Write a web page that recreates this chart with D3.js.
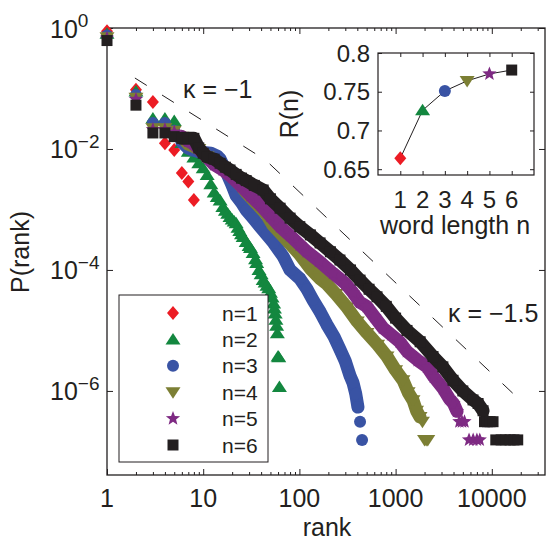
<!DOCTYPE html>
<html><head><meta charset="utf-8">
<script src="https://cdn.jsdelivr.net/npm/d3@7"></script>
<style>
body{margin:0;background:#fff}
text{font-family:"Liberation Sans",Arial,Helvetica,sans-serif;fill:#231f20}
</style>
</head><body>
<svg id="c" width="546" height="541"></svg>
<script>
// ---------- data ----------
const seriesNames = ["n=1","n=2","n=3","n=4","n=5","n=6"];
const seriesColors = ["#ec1c24","#13873f","#3953a4","#7c7f34","#7e2a83","#231f20"];
const seriesMarkers = ["diamond","up","circle","down","star","square"];

// [rank, P(rank)]
const n1 = [[1,0.88],[2,0.095],[3,0.06],[4,0.0124],[5,0.0096],[6,0.004],[7,0.0029],[8,0.00144]];
const n2 = [[1,0.8],[2,0.089],[3,0.032],[4,0.032],[5,0.029],[6,0.0125],[7,0.009],[8,0.0072],[9,0.0058],[10,0.0048],
  [11,0.0037],[12,0.0026],[13,0.0019],[14,0.0016],[15,0.0014],[16,0.0011],[17,0.00095],[18,0.00085],[19,0.00075],[20,0.00068],
  [21,0.00063],[22,0.00059],[23,0.0005],[24,0.00044],[25,0.00039],[26,0.00035],[28,0.00029],[30,0.00025],[31,0.00023],[33,0.00019],
  [35,0.00015],[36,0.00013],[38,0.0001],[40,0.000085],[42,0.000068],[44,0.000062],[46,0.000055],[48,0.00005],[50,0.000042],[52,0.000035],
  [54,0.000028],[55,0.000023],[56,0.000019],[57,0.000015],[58,0.000012],[59,0.000009],[60,0.0000037],[61,0.0000036],[62,0.00000116]];
const n3 = [[1,0.75],[2,0.078],[3,0.027],[4,0.027],[5,0.02],[6,0.013],[7,0.0103],[8,0.0095],[9,0.009],[10,0.0088],
  [12,0.0085],[14,0.0076],[15,0.0068],[17,0.0045],[20,0.0025],[22,0.0017],[25,0.0013],[28,0.00098],[33,0.00072],[39,0.00052],
  [46,0.00038],[54,0.00028],[68,0.000166],[80,0.0001],[101,0.000072],[120,0.000048],[138,0.000032],[165,0.00002],[193,0.0000125],[230,0.0000078],
  [265,0.0000048],[300,0.0000031],[335,0.0000018],[361,0.00000136],[385,0.0000009],[406,0.00000054],[427,0.00000031],[448,0.000000155]];
const n4 = [[1,0.7],[2,0.07],[3,0.022],[4,0.022],[5,0.02],[6,0.016],[7,0.012],[8,0.011],[9,0.01],[11,0.0075],
  [14,0.0058],[17,0.0045],[20,0.0036],[24,0.0026],[28,0.0019],[35,0.0013],[45,0.00085],[53,0.00055],[68,0.00036],[80,0.00027],
  [101,0.00018],[130,0.000105],[164,0.000072],[194,0.000058],[240,0.00004],[313,0.000024],[400,0.000014],[504,0.0000091],[650,0.0000058],[814,0.0000037],
  [1000,0.0000022],[1194,0.0000015],[1350,0.00000095],[1517,0.0000007],[1650,0.00000047],[1794,0.00000037],[1900,0.00000031],[2000,0.000000155],[2080,0.000000155],[2160,0.000000155]];
const n5 = [[1,0.68],[2,0.066],[3,0.021],[4,0.021],[5,0.019],[6,0.016],[7,0.0135],[8,0.012],[10,0.0085],[13,0.0055],
  [16,0.0045],[20,0.0034],[25,0.0024],[31,0.0017],[39,0.0012],[50,0.00078],[63,0.00052],[80,0.00037],[101,0.00026],[120,0.0002],
  [160,0.00014],[224,0.000088],[300,0.00006],[361,0.000042],[427,0.000029],[500,0.000025],[600,0.000017],[740,0.000011],[900,0.0000085],[1100,0.0000065],
  [1314,0.0000045],[1700,0.0000032],[2120,0.0000025],[2500,0.0000017],[3112,0.0000011],[3600,0.00000075],[4000,0.00000062],[4350,0.00000046],[4600,0.00000031],[4900,0.00000031],
  [5200,0.00000031],[5800,0.000000155],[6400,0.000000155],[7000,0.000000155],[7500,0.000000155]];
const n6 = [[1,0.62],[2,0.053],[3,0.0184],[4,0.0184],[5,0.016],[6,0.015],[7,0.015],[8,0.015],[9,0.0104],[10,0.0085],
  [11,0.0074],[13,0.0068],[15,0.0058],[17,0.005],[19,0.0045],[22,0.0038],[25,0.0033],[28,0.003],[34,0.0025],[42,0.0021],
  [50,0.0015],[63,0.00105],[80,0.00072],[101,0.00052],[130,0.00038],[164,0.00028],[210,0.0002],[264,0.000146],[340,0.0001],[427,0.000068],
  [530,0.000048],[641,0.000036],[800,0.000025],[1000,0.000016],[1314,0.00001],[1800,0.0000065],[2449,0.0000037],[3100,0.0000025],[3954,0.0000015],[5000,0.000001],
  [6380,0.00000071],[7200,0.00000062],[8110,0.00000047],[8400,0.00000031],[9000,0.00000031],[9600,0.00000031],[10300,0.00000031],
  [11000,0.000000155],[12500,0.000000155],[14000,0.000000155],[15500,0.000000155],[17000,0.000000155],[18600,0.000000155]];
const seriesData = [n1,n2,n3,n4,n5,n6];

// reference power-law guide (kappa = -1, then kappa = -1.5)
const guideRanks = [1.95, 44.5, 18600];
const guideP = [0.149, 0.00656, 7.66e-7];
const guideLabels = ["\u03BA = \u22121", "\u03BA = \u22121.5"];

const xTickValues = [1,10,100,1000,10000];
const xTickLabels = ["1","10","100","1000","10000"];
const yTickExps = [0,-2,-4,-6];
const yTickExpLabels = ["0","\u22122","\u22124","\u22126"];

// inset
const insetN = [1,2,3,4,5,6];
const insetR = [0.664,0.726,0.751,0.764,0.773,0.778];
const insetYTicks = [0.65,0.7,0.75,0.8];
const insetYLabels = ["0.65","0.7","0.75","0.8"];

// ---------- drawing ----------
const svg = d3.select("#c");
const L=107, R=545, T=28, B=475;
const x = d3.scaleLog().domain([1, Math.pow(10,4.553)]).range([L,R]);
const y = d3.scaleLog().domain([Math.pow(10,-7.39),1]).range([B,T]);

function starPath(ro, ri){
  let p="";
  for(let i=0;i<10;i++){
    const r = i%2===0?ro:ri;
    const a = -Math.PI/2 + i*Math.PI/5;
    p += (i===0?"M":"L") + (r*Math.cos(a)).toFixed(2) + "," + (r*Math.sin(a)).toFixed(2);
  }
  return p+"Z";
}
function markerPath(t){
  switch(t){
    case "diamond": return "M0,-7L6,0L0,7L-6,0Z";
    case "up": return "M0,-6.5L7.5,5L-7.5,5Z";
    case "down": return "M0,6.5L7.5,-5L-7.5,-5Z";
    case "circle": return d3.symbol(d3.symbolCircle, Math.PI*36)();
    case "star": return starPath(7.5,3.2);
    case "square": return "M-5.5,-5.5H5.5V5.5H-5.5Z";
  }
}

// axes box
const axisG = svg.append("g");
const minorX = [];
for(let d=0; d<5; d++) for(let m=2;m<=9;m++){ const v=m*Math.pow(10,d); if(v<x.domain()[1]) minorX.push(v); }

axisG.append("g").attr("transform",`translate(0,${B})`)
  .call(d3.axisBottom(x).tickValues(xTickValues).tickSizeInner(-6).tickSizeOuter(0).tickFormat(""));
axisG.append("g").attr("transform",`translate(0,${B})`)
  .call(d3.axisBottom(x).tickValues(minorX).tickSizeInner(-3).tickSizeOuter(0).tickFormat(""));
axisG.append("g").attr("transform",`translate(0,${T})`)
  .call(d3.axisTop(x).tickValues(xTickValues).tickSizeInner(-6).tickSizeOuter(0).tickFormat(""));
axisG.append("g").attr("transform",`translate(0,${T})`)
  .call(d3.axisTop(x).tickValues(minorX).tickSizeInner(-3).tickSizeOuter(0).tickFormat(""));
const yTickVals = yTickExps.map(e=>Math.pow(10,e));
axisG.append("g").attr("transform",`translate(${L},0)`)
  .call(d3.axisLeft(y).tickValues(yTickVals).tickSizeInner(-6).tickSizeOuter(0).tickFormat(""));
axisG.append("g").attr("transform",`translate(${R},0)`)
  .call(d3.axisRight(y).tickValues(yTickVals).tickSizeInner(-6).tickSizeOuter(0).tickFormat(""));
axisG.selectAll(".domain").remove();
axisG.selectAll("line").attr("stroke","#231f20").attr("stroke-width",1);
svg.append("rect").attr("x",L).attr("y",T).attr("width",R-L).attr("height",B-T)
  .attr("fill","none").attr("stroke","#231f20").attr("stroke-width",1.3);

// tick labels
svg.selectAll(".xl").data(xTickValues).enter().append("text")
  .attr("x",d=>x(d)).attr("y",507).attr("text-anchor","middle").attr("font-size",25)
  .text((d,i)=>xTickLabels[i]);
yTickExps.forEach((e,i)=>{
  const ty = y(Math.pow(10,e));
  const t = svg.append("text").attr("x",50).attr("y",ty+9.5).attr("font-size",25);
  t.append("tspan").text("10");
  t.append("tspan").attr("font-size",19).attr("dy",-10.5).text(yTickExpLabels[i]);
});
svg.append("text").attr("x",327).attr("y",536).attr("text-anchor","middle").attr("font-size",25).text("rank");
svg.append("text").attr("transform",`translate(29,252) rotate(-90)`).attr("text-anchor","middle")
  .attr("font-size",25).text("P(rank)");

// guide line
const gline = d3.line().x(d=>x(d[0])).y(d=>y(d[1]));
svg.append("path").datum(guideRanks.map((r,i)=>[r,guideP[i]]))
  .attr("d",gline).attr("fill","none").attr("stroke","#231f20").attr("stroke-width",1)
  .attr("stroke-dasharray","14,18");
svg.append("text").attr("x",183).attr("y",98).attr("font-size",25).text(guideLabels[0]);
svg.append("text").attr("x",448).attr("y",322).attr("font-size",25).text(guideLabels[1]);

// series: dense part drawn as a band of overlapping markers, plus the markers themselves
const band = d3.line().x(d=>x(d[0])).y(d=>y(d[1])).curve(d3.curveLinear);
seriesData.forEach((data,si)=>{
  const g = svg.append("g");
  if(si>=2){
    g.append("path").datum(data.filter(d=>d[0]>=6 && d[1]>3.5e-7)).attr("d",band)
      .attr("fill","none").attr("stroke",seriesColors[si]).attr("stroke-width",13)
      .attr("stroke-linejoin","round").attr("stroke-linecap","round");
  }
  g.selectAll("path.m").data(data).enter().append("path").attr("class","m")
    .attr("transform",d=>`translate(${x(d[0])},${y(d[1])})`)
    .attr("d",markerPath(seriesMarkers[si])).attr("fill",seriesColors[si]);
});

// legend
const lg = svg.append("g");
lg.append("rect").attr("x",119).attr("y",295).attr("width",149).attr("height",167)
  .attr("fill","#fff").attr("stroke","#231f20").attr("stroke-width",1);
seriesNames.forEach((nm,i)=>{
  const ly = 313 + i*26.4;
  lg.append("path").attr("transform",`translate(173,${ly})`).attr("d",markerPath(seriesMarkers[i]))
    .attr("fill",seriesColors[i]);
  lg.append("text").attr("x",222).attr("y",ly+7.5).attr("font-size",21).text(nm);
});

// inset
const iL=378, iR=534, iT=53, iB=175;
const ix = d3.scaleLinear().domain([0,7]).range([iL,iR]);
const iy = d3.scaleLinear().domain([0.6425,0.8]).range([iB,iT]);
const ig = svg.append("g");
ig.append("rect").attr("x",iL).attr("y",iT).attr("width",iR-iL).attr("height",iB-iT)
  .attr("fill","#fff").attr("stroke","none");
const iax = ig.append("g");
iax.append("g").attr("transform",`translate(0,${iB})`)
  .call(d3.axisBottom(ix).tickValues(insetN).tickSizeInner(-4).tickSizeOuter(0).tickFormat(""));
iax.append("g").attr("transform",`translate(0,${iT})`)
  .call(d3.axisTop(ix).tickValues(insetN).tickSizeInner(-4).tickSizeOuter(0).tickFormat(""));
iax.append("g").attr("transform",`translate(${iL},0)`)
  .call(d3.axisLeft(iy).tickValues(insetYTicks).tickSizeInner(-4).tickSizeOuter(0).tickFormat(""));
iax.append("g").attr("transform",`translate(${iR},0)`)
  .call(d3.axisRight(iy).tickValues(insetYTicks).tickSizeInner(-4).tickSizeOuter(0).tickFormat(""));
iax.selectAll(".domain").remove();
iax.selectAll("line").attr("stroke","#231f20").attr("stroke-width",1);
ig.append("rect").attr("x",iL).attr("y",iT).attr("width",iR-iL).attr("height",iB-iT)
  .attr("fill","none").attr("stroke","#231f20").attr("stroke-width",1.2);
ig.selectAll(".ixl").data(insetN).enter().append("text").attr("x",d=>ix(d)).attr("y",208)
  .attr("text-anchor","middle").attr("font-size",24).text(d=>d);
ig.selectAll(".iyl").data(insetYTicks).enter().append("text").attr("x",370).attr("y",d=>iy(d)+8.5)
  .attr("text-anchor","end").attr("font-size",24).text((d,i)=>insetYLabels[i]);
ig.append("text").attr("x",455).attr("y",234).attr("text-anchor","middle").attr("font-size",25).text("word length n");
ig.append("text").attr("transform",`translate(298,114) rotate(-90)`).attr("text-anchor","middle")
  .attr("font-size",25).text("R(n)");
ig.append("path").datum(insetN.map((n,i)=>[n,insetR[i]]))
  .attr("d",d3.line().x(d=>ix(d[0])).y(d=>iy(d[1]))).attr("fill","none")
  .attr("stroke","#231f20").attr("stroke-width",1);
insetN.forEach((n,i)=>{
  ig.append("path").attr("transform",`translate(${ix(n)},${iy(insetR[i])})`)
    .attr("d",markerPath(seriesMarkers[i])).attr("fill",seriesColors[i]);
});
</script>
</body></html>
